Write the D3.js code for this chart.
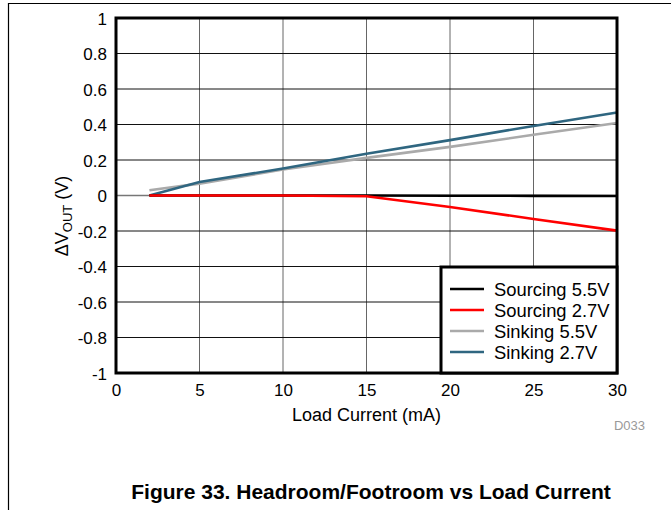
<!DOCTYPE html>
<html lang="en">
  <head>
    <meta charset="UTF-8" />
    <title>Headroom/Footroom vs Load Current</title>
    <script src="https://d3js.org/d3.v7.min.js"></script>
    <style>
      body {
        margin: 0;
        padding: 0;
        background: #fff;
        font-family: Arial, "Liberation Sans", sans-serif;
      }
      .tick text {
        font-size: 17px;
        fill: #000;
      }
    </style>
  </head>
  <body>
    <div id="chart"></div>
    <script>
      const loadCurrent = [2, 5, 10, 15, 20, 25, 30];
      const sourcing55 = [0, 0, 0, 0, -0.001, -0.002, -0.003];
      const sourcing27 = [0, 0, 0, -0.004, -0.065, -0.132, -0.198];
      const sinking55 = [0.03, 0.067, 0.146, 0.212, 0.274, 0.342, 0.408];
      const sinking27 = [0, 0.076, 0.152, 0.235, 0.312, 0.392, 0.468];

      const seriesNames = ["Sourcing 5.5V", "Sourcing 2.7V", "Sinking 5.5V", "Sinking 2.7V"];
      const seriesColors = ["#000000", "#ff0000", "#aaaaaa", "#2f6680"];
      const xTicks = [0, 5, 10, 15, 20, 25, 30];
      const yTicks = [1, 0.8, 0.6, 0.4, 0.2, 0, -0.2, -0.4, -0.6, -0.8, -1];

      const width = 671;
      const height = 510;
      const margin = { top: 18, right: 54, bottom: 137, left: 116 };
      const innerW = width - margin.left - margin.right;
      const innerH = height - margin.top - margin.bottom;

      const svg = d3
        .select("#chart")
        .append("svg")
        .attr("width", width)
        .attr("height", height);

      // page frame lines
      svg.append("line")
        .attr("x1", 8).attr("x2", width).attr("y1", 3.5).attr("y2", 3.5)
        .attr("stroke", "#000").attr("stroke-width", 1.2);
      svg.append("line")
        .attr("x1", 8.5).attr("x2", 8.5).attr("y1", 3).attr("y2", height)
        .attr("stroke", "#000").attr("stroke-width", 1.2);

      const g = svg
        .append("g")
        .attr("transform", `translate(${margin.left}, ${margin.top})`);

      const x = d3.scaleLinear().domain([0, 30]).range([0, innerW]);
      const y = d3.scaleLinear().domain([-1, 1]).range([innerH, 0]);

      // grid
      g.append("g")
        .selectAll("line")
        .data(xTicks.slice(1, -1))
        .join("line")
        .attr("x1", (d) => x(d)).attr("x2", (d) => x(d))
        .attr("y1", 0).attr("y2", innerH)
        .attr("stroke", "#666").attr("stroke-width", 1);

      g.append("g")
        .selectAll("line")
        .data(yTicks.slice(1, -1))
        .join("line")
        .attr("x1", 0).attr("x2", innerW)
        .attr("y1", (d) => y(d)).attr("y2", (d) => y(d))
        .attr("stroke", (d) => (d === 0 ? "#777" : "#111"))
        .attr("stroke-width", (d) => (d === 0 ? 1.5 : 1));

      // axes
      const xAxis = g
        .append("g")
        .attr("transform", `translate(0, ${innerH})`)
        .call(d3.axisBottom(x).tickValues(xTicks).tickSize(0).tickPadding(11).tickFormat(d3.format("d")));
      xAxis.select(".domain").remove();

      const yAxis = g
        .append("g")
        .call(d3.axisLeft(y).tickValues(yTicks).tickSize(0).tickPadding(9).tickFormat((d) => String(d)));
      yAxis.select(".domain").remove();
      yAxis.selectAll(".tick text").attr("dy", "0.36em");

      // lines
      const allSeries = [sourcing55, sourcing27, sinking55, sinking27];
      const line = d3
        .line()
        .x((d, i) => x(loadCurrent[i]))
        .y((d) => y(d));

      const drawOrder = [2, 3, 0, 1];
      drawOrder.forEach((k) => {
        g.append("path")
          .datum(allSeries[k])
          .attr("fill", "none")
          .attr("stroke", seriesColors[k])
          .attr("stroke-width", 2.6)
          .attr("d", line);
      });

      // plot frame
      g.append("rect")
        .attr("x", 0).attr("y", 0)
        .attr("width", innerW).attr("height", innerH)
        .attr("fill", "none").attr("stroke", "#000").attr("stroke-width", 3);

      // legend
      const legW = 176;
      const legH = 106;
      const legend = g
        .append("g")
        .attr("transform", `translate(${innerW - legW}, ${innerH - legH})`);
      legend.append("rect")
        .attr("width", legW).attr("height", legH)
        .attr("fill", "#fff").attr("stroke", "#000").attr("stroke-width", 3);
      seriesNames.forEach((name, i) => {
        const ly = 22 + i * 21;
        legend.append("line")
          .attr("x1", 9).attr("x2", 43).attr("y1", ly).attr("y2", ly)
          .attr("stroke", seriesColors[i]).attr("stroke-width", 2.6);
        legend.append("text")
          .attr("x", 53).attr("y", ly + 6.5)
          .style("font-size", "18.4px")
          .text(name);
      });

      // axis titles
      svg.append("text")
        .attr("x", margin.left + innerW / 2)
        .attr("y", 421)
        .attr("text-anchor", "middle")
        .style("font-size", "18px")
        .text("Load Current (mA)");

      const yTitle = svg.append("text")
        .attr("transform", "translate(68, 216) rotate(-90)")
        .attr("text-anchor", "middle")
        .style("font-size", "18px");
      yTitle.append("tspan").text("ΔV");
      yTitle.append("tspan").attr("dy", 4).style("font-size", "13px").text("OUT");
      yTitle.append("tspan").attr("dy", -4).text(" (V)");

      svg.append("text")
        .attr("x", 645)
        .attr("y", 430)
        .attr("text-anchor", "end")
        .attr("fill", "#999")
        .style("font-size", "13px")
        .text("D033");

      svg.append("text")
        .attr("x", 371)
        .attr("y", 499)
        .attr("text-anchor", "middle")
        .style("font-size", "21px")
        .style("font-weight", "bold")
        .text("Figure 33. Headroom/Footroom vs Load Current");
    </script>
  </body>
</html>
